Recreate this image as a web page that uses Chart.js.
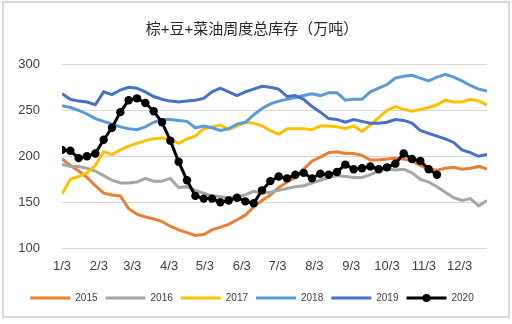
<!DOCTYPE html>
<html>
<head>
<meta charset="utf-8">
<script src="https://cdn.jsdelivr.net/npm/chart.js@4/dist/chart.umd.min.js"></script>
<style>
  html, body { margin: 0; padding: 0; background: #fff; }
  #moldura { position: absolute; left: 2px; top: 1px; width: 504px; height: 313px; border: 2px solid #d9d9d9; }
  #area { position: absolute; left: 0; top: 0; width: 512px; height: 324px; }
</style>
</head>
<body>
<div id="moldura"></div>
<div id="area"><canvas id="grafico" width="512" height="324"></canvas></div>
<script>
// Dados semanais (万吨), semana 0 = 1/3
var titulo = "棕+豆+菜油周度总库存（万吨）";
var meses = ["1/3", "2/3", "3/3", "4/3", "5/3", "6/3", "7/3", "8/3", "9/3", "10/3", "11/3", "12/3"];
var anos = ["2015", "2016", "2017", "2018", "2019", "2020"];

var v2015 = [197, 190, 184, 177, 168, 160, 158, 157, 143, 137, 134, 132, 129, 124, 120, 117, 114, 115, 120, 123, 126, 131, 136, 145, 152, 158, 166, 172, 177, 186, 195, 199, 204, 205, 203, 203, 201, 196, 196, 197, 198, 197, 195, 190, 186, 185, 187, 188, 186, 187, 189, 186];
var v2016 = [191, 189, 189, 187, 184, 179, 174, 171, 171, 172, 176, 173, 173, 176, 166, 167, 163, 160, 157, 156, 155, 156, 158, 162, 160, 161, 163, 165, 167, 168, 171, 174, 177, 179, 178, 177, 177, 180, 184, 186, 185, 186, 182, 175, 172, 167, 161, 155, 152, 154, 146, 152];
var v2017 = [159, 175, 178, 182, 190, 205, 202, 207, 211, 214, 217, 219, 220, 218, 214, 219, 222, 230, 232, 234, 229, 233, 237, 236, 233, 228, 224, 230, 230, 230, 229, 233, 233, 232, 230, 233, 227, 234, 242, 250, 254, 251, 249, 251, 253, 256, 261, 259, 259, 262, 260, 256];
var v2018 = [255, 253, 250, 246, 241, 238, 235, 232, 230, 229, 232, 237, 240, 240, 239, 238, 231, 233, 231, 228, 230, 235, 237, 245, 252, 257, 260, 262, 264, 266, 268, 266, 269, 269, 261, 262, 262, 270, 274, 278, 285, 287, 288, 285, 282, 286, 289, 286, 282, 277, 273, 271];
var v2019 = [268, 262, 260, 259, 256, 270, 267, 272, 275, 274, 270, 265, 262, 260, 259, 260, 261, 263, 270, 274, 270, 266, 270, 273, 276, 275, 273, 265, 266, 262, 254, 248, 241, 240, 237, 240, 238, 236, 236, 237, 240, 239, 236, 228, 225, 222, 219, 215, 207, 204, 200, 202];
var v2020 = [207, 206, 198, 200, 203, 218, 231, 248, 261, 263, 258, 249, 237, 217, 194, 174, 157, 154, 154, 150, 152, 155, 151, 149, 163, 173, 178, 176, 180, 182, 176, 181, 180, 183, 191, 186, 187, 189, 186, 188, 192, 203, 197, 195, 186, 180];

var series = [v2015, v2016, v2017, v2018, v2019, v2020];
var cores = ["#ED7D31", "#A5A5A5", "#FFC000", "#5B9BD5", "#4472C4", "#000000"];

// dias desde 1/3 para cada rótulo do eixo x
var diasMes = meses.map(function (m) {
	var p = m.split("/").map(Number);
	return (Date.UTC(2019, p[0] - 1, p[1]) - Date.UTC(2019, 0, 3)) / 86400000;
});

var fonte = "'Liberation Sans', Arial, 'Noto Sans CJK SC', sans-serif";

// Desenha o ponto no meio da linha da legenda de 2020
const pontoLegenda = {
	id: "pontoLegenda",
	afterDraw(chart) {
		const leg = chart.legend;
		const idx = leg.legendItems.findIndex((it) => it.text === "2020");
		const box = leg.legendHitBoxes[idx];
		const ctx = chart.ctx;
		ctx.save();
		ctx.fillStyle = "#000";
		ctx.beginPath();
		ctx.arc(box.left + leg.options.labels.boxWidth / 2, box.top + box.height / 2, 4, 0, Math.PI * 2);
		ctx.fill();
		ctx.restore();
	},
};

const datasets = anos.map(function (ano, i) {
	const ultimo = ano === "2020";
	return {
		label: ano,
		data: series[i].map((v, s) => ({ x: s * 7, y: v })),
		borderColor: cores[i],
		backgroundColor: cores[i],
		borderWidth: 3,
		pointRadius: ultimo ? 4.2 : 0,
		pointHoverRadius: ultimo ? 4.2 : 0,
		pointBackgroundColor: cores[i],
		pointBorderWidth: 0,
		tension: 0,
		order: anos.length - i,
	};
});

new Chart(document.getElementById("grafico"), {
	type: "line",
	data: { datasets: datasets },
	plugins: [pontoLegenda],
	options: {
		responsive: false,
		animation: false,
		layout: { padding: { left: 17, right: 25, top: 0, bottom: 11 } },
		plugins: {
			title: {
				display: true,
				text: titulo,
				color: "#262626",
				font: { family: fonte, size: 15, weight: "normal" },
				padding: { top: 21, bottom: 25.3 },
			},
			legend: {
				position: "bottom",
				labels: {
					boxWidth: 40,
					boxHeight: 3,
					padding: 8,
					color: "#404040",
					font: { family: fonte, size: 10 },
					sort: (a, b) => a.datasetIndex - b.datasetIndex,
					generateLabels: (chart) =>
						Chart.defaults.plugins.legend.labels.generateLabels(chart).map((l) => Object.assign(l, { lineWidth: 0 })),
				},
			},
			tooltip: { enabled: false },
		},
		scales: {
			x: {
				type: "linear",
				min: 0,
				max: 357,
				grid: { display: false, drawTicks: false },
				border: { display: false },
				ticks: {
					autoSkip: false,
					maxRotation: 0,
					padding: 10,
					color: "#404040",
					font: { family: fonte, size: 13 },
					callback: (v, i) => meses[i],
				},
				afterBuildTicks: (s) => {
					s.ticks = diasMes.map((d) => ({ value: d }));
				},
				afterFit: (s) => {
					s.height = 36.7;
				},
			},
			y: {
				min: 100,
				max: 300,
				ticks: { stepSize: 50, padding: 22, color: "#404040", font: { family: fonte, size: 13 } },
				grid: { color: "#d9d9d9", drawTicks: false },
				border: { display: false },
				afterFit: (s) => {
					s.width = 45;
				},
			},
		},
	},
});
</script>
</body>
</html>
